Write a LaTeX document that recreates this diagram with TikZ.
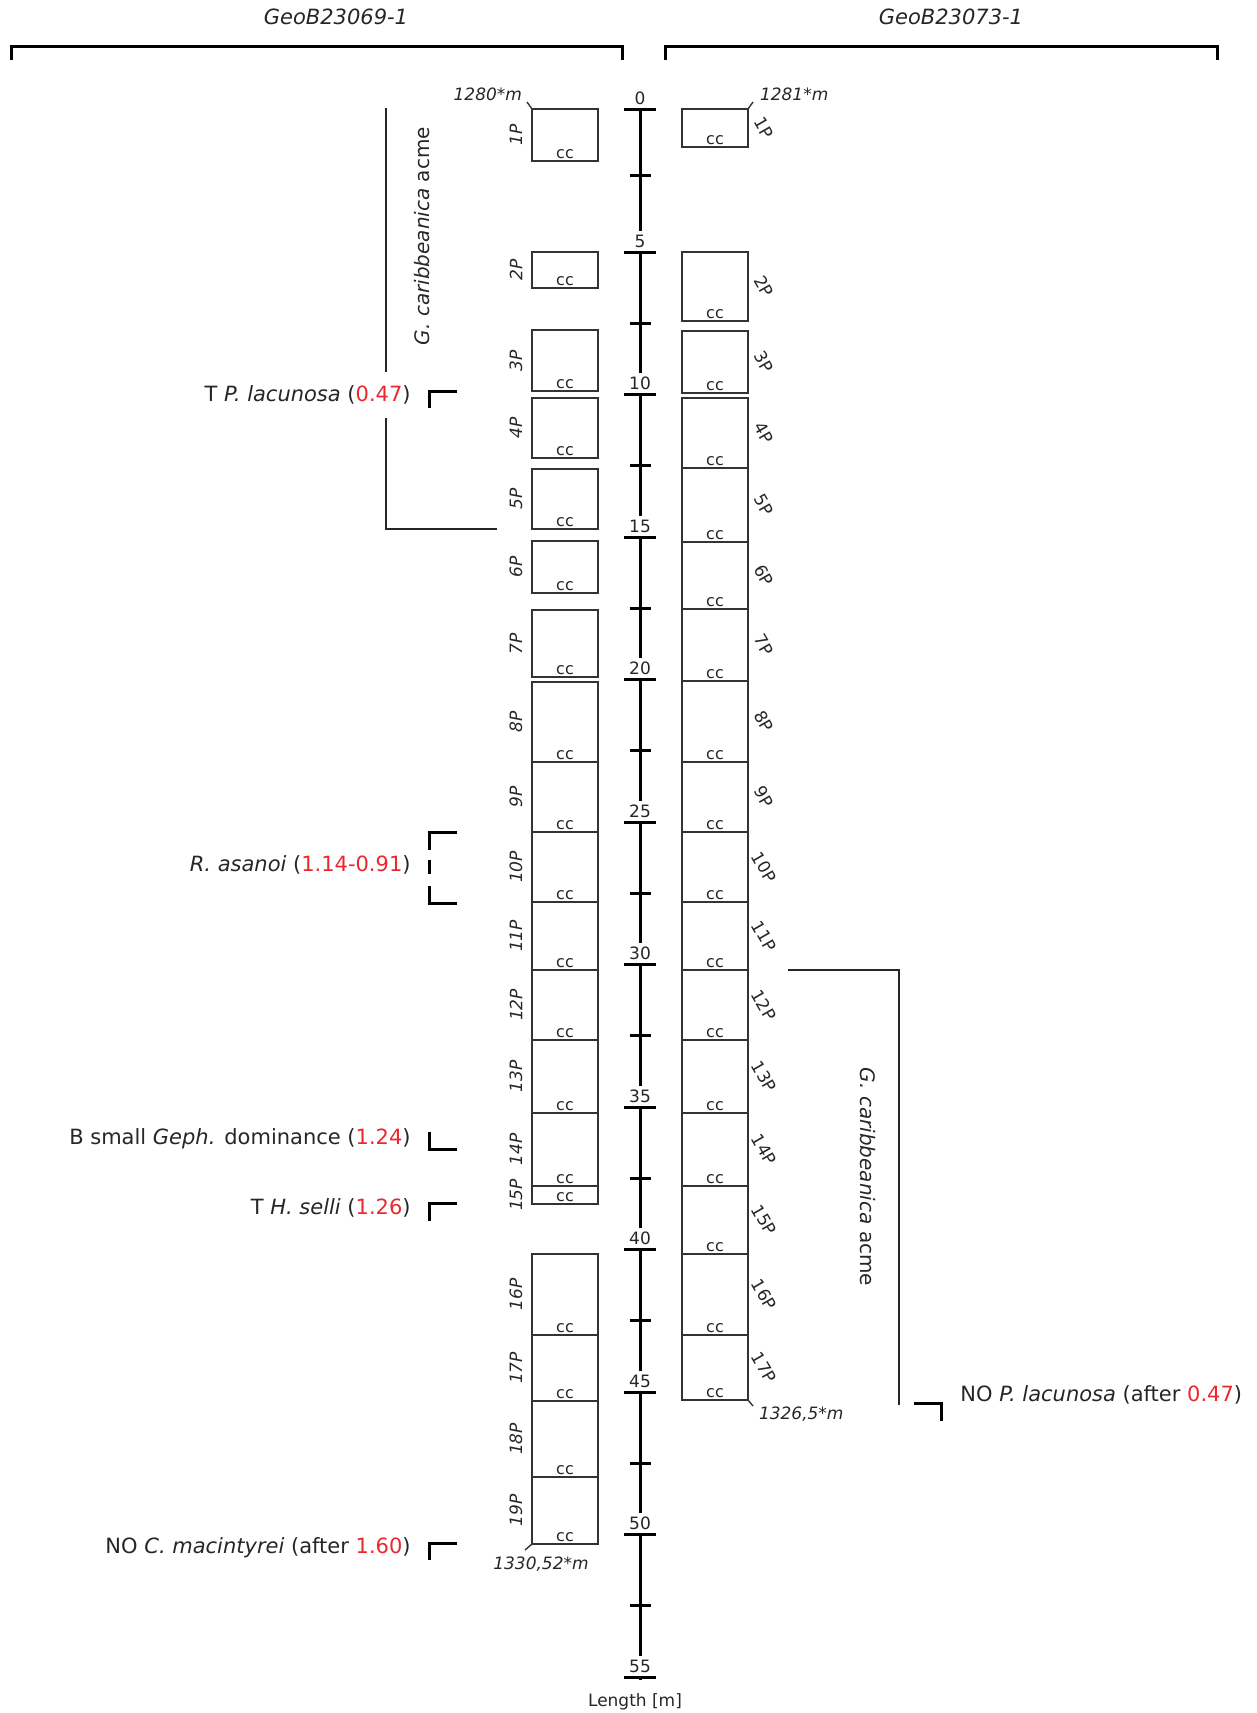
\documentclass[tikz,border=0pt]{standalone}
\usepackage{fontspec}
\setmainfont{DejaVu Sans}
\usepackage{xcolor}
\usetikzlibrary{calc}
\definecolor{agered}{RGB}{235,40,45}
\newcommand{\agetxt}[1]{\textcolor{agered}{#1}}

\begin{document}
\begin{tikzpicture}[x=0.5pt,y=-0.5pt,
  core/.style={draw=black!80,line width=0.7pt,rectangle,minimum width=33pt,inner sep=0pt,outer sep=0pt},
  corelbl/.style={font=\fontsize{8.5}{10}\selectfont,inner sep=1pt,text=black!85},
  cclbl/.style={font=\fontsize{8}{9}\selectfont,inner sep=1pt,above,text=black!85},
  depthlbl/.style={font=\fontsize{8.5}{10}\selectfont\itshape,inner sep=0.5pt,text=black!85},
  anno/.style={font=\fontsize{10.5}{12}\selectfont,inner sep=1pt,text=black!85},
  head/.style={font=\fontsize{10.5}{12}\selectfont\itshape,text=black!85},
  brk/.style={line width=1.5pt},
  axis/.style={line width=1.5pt},
  acme/.style={line width=0.6pt,black!85}]
\useasboundingbox (0,0) rectangle (1257,1713);

\node[head] (hl) at (336,17) {GeoB23069-1};
\node[head] (hr) at (951,17) {GeoB23073-1};
\draw[brk] (11,60) |- (622,46) -- (622,60);
\draw[brk] (665,60) |- (1217,46) -- (1217,60);

\draw[axis] (640,109.5) -- (640,1680);
\foreach \i [evaluate=\i as \m using int(5*\i)] in {0,...,11} {
  \node[corelbl,above,fill=white,inner sep=2pt] (t\m) at (640,{109.5+142.5*\i}) {\m};
  \draw[axis] (624,{109.5+142.5*\i}) -- (656,{109.5+142.5*\i});
}
\draw[axis] (629.5,175) -- (650.5,175);
\foreach \i in {1,...,10} {
  \draw[axis] (629.5,{180.75+142.5*\i}) -- (650.5,{180.75+142.5*\i});
}
\node[corelbl] (len) at (635,1702) {Length [m]};

\foreach \n/\t/\b in {1/109/161,2/252/288,3/330/391,4/398/458,5/469/529,6/541/593,
  7/610/677,8/682/762,9/762/832,10/832/902,11/902/970,12/970/1040,13/1040/1113,
  14/1113/1186,15/1186/1204,16/1254/1335,17/1335/1401,18/1401/1477,19/1477/1544} {
  \node[core,minimum height={(\b-\t)*0.5pt}] (l\n) at (565,{(\t+\b)/2}) {};
  \node[corelbl,rotate=90,font=\fontsize{8.5}{10}\selectfont\itshape] at (516,{(\t+\b)/2}) {\n P};
  \node[cclbl] at (l\n.south) {cc};
}
\foreach \n/\t/\b in {1/109/147,2/252/321,3/331/393,4/398/468,5/468/542,6/542/609,
  7/609/681,8/681/762,9/762/832,10/832/902,11/902/970,12/970/1040,13/1040/1113,
  14/1113/1186,15/1186/1254,16/1254/1335,17/1335/1400} {
  \node[core,minimum height={(\b-\t)*0.5pt}] (r\n) at (715,{(\t+\b)/2}) {};
  \node[corelbl,rotate=-60] at (764,{(\t+\b)/2}) {\n P};
  \node[cclbl] at (r\n.south) {cc};
}

\draw[core] (l1.north west) -- ++(-5,-7) node[depthlbl,anchor=south east,xshift=-2pt] {1280*m};
\draw[core] (r1.north east) -- ++(5,-7) node[depthlbl,anchor=south west,xshift=3pt] {1281*m};
\draw[core] (l19.south west) -- ++(-7,6) node[depthlbl,anchor=north,xshift=8pt,yshift=-3pt] {1330,52*m};
\draw[core] (r17.south east) -- ++(5,6) node[depthlbl,anchor=north west,xshift=2.5pt] {1326,5*m};

\draw[acme] (386,108) |- (497,529);
\node[anno,rotate=90,font=\fontsize{10}{12}\selectfont] (acl) at (422,236) {\textit{G. caribbeanica} acme};
\draw[acme] (788,970) -| (899,1405);
\node[anno,rotate=-90,font=\fontsize{10}{12}\selectfont] (acr) at (868,1177) {\textit{G. caribbeanica} acme};

\node[anno,anchor=east,fill=white,inner ysep=7pt] (tlac) at (413,395) {T \textit{P. lacunosa} (\agetxt{0.47})};
\draw[brk] (429,408) |- (457,391.5);
\node[anno,anchor=east] (ras) at (413,865) {\textit{R. asanoi} (\agetxt{1.14-0.91})};
\draw[brk] (457,832) -| (429,850) (429,860) -- (429,874) (429,886) |- (457,903);
\node[anno,anchor=east] (bgeph) at (413,1139) {B small \textit{Geph.} dominance (\agetxt{1.24})};
\draw[brk] (429,1131.5) |- (457,1149);
\node[anno,anchor=east] (tsel) at (413,1208) {T \textit{H. selli} (\agetxt{1.26})};
\draw[brk] (429,1221) |- (457,1203);
\node[anno,anchor=east] (nomac) at (413,1547.5) {NO \textit{C. macintyrei} (after \agetxt{1.60})};
\draw[brk] (429,1560) |- (457,1543);
\node[anno,anchor=west] (nolac) at (958,1395) {NO \textit{P. lacunosa} (after \agetxt{0.47})};
\draw[brk] (914,1403) -| (941,1421);
\end{tikzpicture}
\end{document}
